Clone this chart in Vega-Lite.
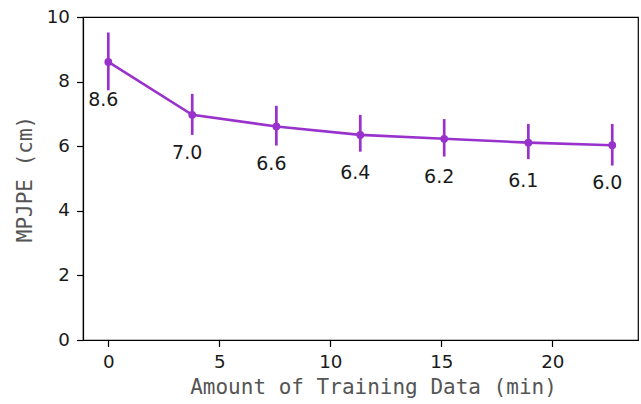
{
  "$schema": "https://vega.github.io/schema/vega-lite/v6.json",
  "width": 555,
  "height": 323,
  "autosize": {"type": "none"},
  "padding": {"left": 83, "top": 17, "right": 3, "bottom": 64},
  "background": "white",
  "config": {
    "view": {"stroke": "#000000", "strokeWidth": 1.2},
    "axis": {
      "grid": false,
      "domainColor": "#000000",
      "domainWidth": 1.2,
      "tickColor": "#000000",
      "tickWidth": 1.2,
      "tickSize": 6.5,
      "labelFont": "DejaVu Sans",
      "labelFontSize": 18.3,
      "labelColor": "#1a1a1a",
      "labelPadding": 7,
      "titleFont": "DejaVu Sans Mono",
      "titleFontSize": 21,
      "titleFontWeight": "normal",
      "titleColor": "#555555"
    }
  },
  "data": {
    "values": [
      {"t": 0, "mpjpe": 8.61, "lo": 7.73, "hi": 9.52, "label": "8.6"},
      {"t": 3.78, "mpjpe": 6.97, "lo": 6.35, "hi": 7.62, "label": "7.0"},
      {"t": 7.57, "mpjpe": 6.61, "lo": 6.02, "hi": 7.25, "label": "6.6"},
      {"t": 11.35, "mpjpe": 6.35, "lo": 5.83, "hi": 6.97, "label": "6.4"},
      {"t": 15.13, "mpjpe": 6.23, "lo": 5.68, "hi": 6.84, "label": "6.2"},
      {"t": 18.92, "mpjpe": 6.11, "lo": 5.6, "hi": 6.69, "label": "6.1"},
      {"t": 22.7, "mpjpe": 6.03, "lo": 5.4, "hi": 6.69, "label": "6.0"}
    ]
  },
  "encoding": {
    "x": {
      "field": "t",
      "type": "quantitative",
      "scale": {"domain": [-1.14, 23.86], "nice": false, "zero": false},
      "axis": {"values": [0, 5, 10, 15, 20], "title": "Amount of Training Data (min)", "titlePadding": 6, "titleX": 290}
    },
    "y": {
      "field": "mpjpe",
      "type": "quantitative",
      "scale": {"domain": [0, 10], "nice": false},
      "axis": {"values": [0, 2, 4, 6, 8, 10], "title": "MPJPE (cm)", "titlePadding": 11}
    }
  },
  "layer": [
    {
      "mark": {"type": "rule", "color": "#9932CC", "strokeWidth": 2.7},
      "encoding": {"y": {"field": "lo", "type": "quantitative"}, "y2": {"field": "hi"}}
    },
    {
      "mark": {"type": "line", "color": "#9932CC", "strokeWidth": 2.6}
    },
    {
      "mark": {"type": "point", "filled": true, "color": "#9932CC", "size": 60, "opacity": 1}
    },
    {
      "mark": {"type": "text", "font": "DejaVu Sans", "fontSize": 19, "color": "#1a1a1a", "dy": 38, "dx": -5, "align": "center", "baseline": "middle"},
      "encoding": {"text": {"field": "label"}}
    }
  ]
}
